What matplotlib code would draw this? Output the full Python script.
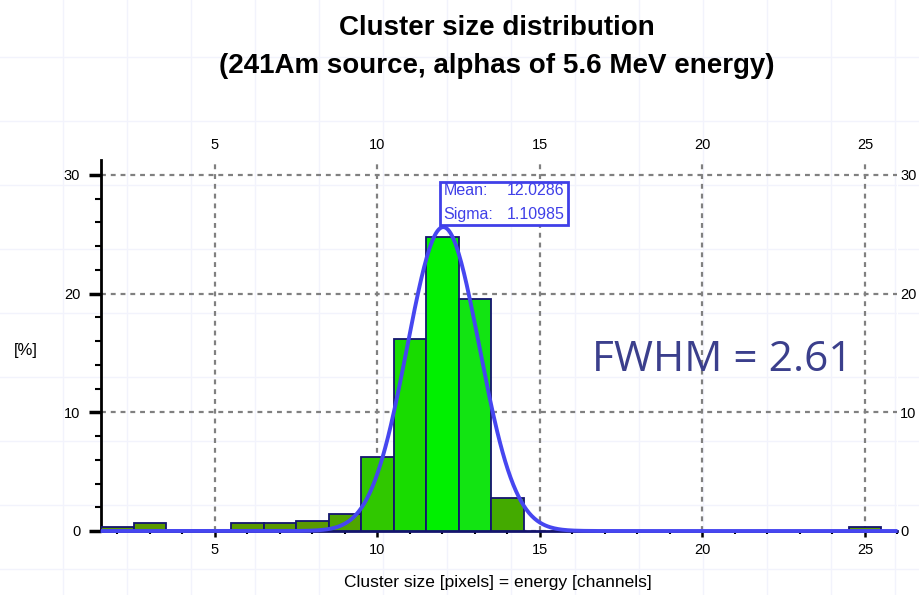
import numpy as np
import matplotlib.pyplot as plt
from matplotlib.lines import Line2D
from matplotlib.patches import Rectangle
from matplotlib.ticker import MultipleLocator

# cluster size bins (pixels) and share of clusters in each bin [%]
sizes = np.array([2, 3, 4, 5, 6, 7, 8, 9, 10, 11, 12, 13, 14, 25])
percent = np.array([0.37, 0.7, 0.0, 0.0, 0.7, 0.7, 0.87, 1.45, 6.26, 16.2, 24.8, 19.5, 2.75, 0.37])
bar_colors = ["#5a9900", "#5a9900", "#5a9900", "#5a9900", "#5a9900", "#5a9900", "#5a9900",
              "#4fa600", "#30c800", "#18dc00", "#00f000", "#12e412", "#44aa00", "#5a9900"]

# gaussian fit
mean = 12.0286
sigma = 1.10985
peak = 25.6
fwhm = 2.61

W, H = 920, 595
fig = plt.figure(figsize=(W / 100, H / 100), dpi=100)

# faint page grid behind everything
for px in range(63, W, 64):
    fig.add_artist(Line2D([px / W, px / W], [0, 1], color="#f2f3fc", lw=1.0, zorder=-10))
for py in range(57, H, 64):
    fig.add_artist(Line2D([0, 1], [1 - py / H, 1 - py / H], color="#f2f3fc", lw=1.0, zorder=-10))

ax = fig.add_axes([101 / W, 1 - 531 / H, 796.5 / W, 371 / H])
ax.patch.set_alpha(0)
ax.set_xlim(1.5, 26)
ax.set_ylim(0, 31.25)

ax.bar(sizes, percent, width=1.0, color=bar_colors, edgecolor="#14146e", linewidth=1.3, zorder=3)

xs = np.linspace(1.5, 26, 600)
ax.plot(xs, peak * np.exp(-0.5 * ((xs - mean) / sigma) ** 2), color="#4646f0", lw=2.8,
        zorder=4, clip_on=False, solid_capstyle="butt")

# fit parameter box
blue = "#4040e8"
ax.add_patch(Rectangle((11.94, 25.78), 3.91, 3.62, fc="white", ec=blue, lw=2, zorder=5))
ax.text(12.03, 28.64, "Mean:", color=blue, fontsize=11.5, family="Liberation Sans",
        ha="left", va="center", zorder=6)
ax.text(12.03, 26.62, "Sigma:", color=blue, fontsize=11.5, family="Liberation Sans",
        ha="left", va="center", zorder=6)
ax.text(15.76, 28.64, f"{mean:.4f}", color=blue, fontsize=11.5, family="Liberation Sans",
        ha="right", va="center", zorder=6)
ax.text(15.76, 26.62, f"{sigma:.5f}", color=blue, fontsize=11.5, family="Liberation Sans",
        ha="right", va="center", zorder=6)

ax.text(16.6, 14.4, f"FWHM = {fwhm}", color="#3b3f8c", fontsize=30.5, family="Open Sans",
        ha="left", va="center", zorder=5)

# axes styling
for side in ("top", "right"):
    ax.spines[side].set_visible(False)
ax.spines["left"].set_linewidth(2)
ax.spines["left"].set_color("black")
ax.spines["bottom"].set_linewidth(2)
ax.spines["bottom"].set_color("#14146e")

ax.xaxis.set_major_locator(MultipleLocator(5))
ax.xaxis.set_minor_locator(MultipleLocator(1))
ax.yaxis.set_major_locator(MultipleLocator(10))
ax.yaxis.set_minor_locator(MultipleLocator(2))

ax.tick_params(axis="y", which="major", length=9, width=2.5, pad=6, labelsize=10.5)
ax.tick_params(axis="y", which="minor", length=4, width=1.5)
ax.tick_params(axis="x", which="major", length=4, width=1.8, pad=5, labelsize=10.5)
ax.tick_params(axis="x", which="minor", length=2, width=1.5)
for lab in ax.get_yticklabels() + ax.get_xticklabels():
    lab.set_family("Liberation Sans")

# tick labels repeated on the top and right sides
top = ax.secondary_xaxis("top")
top.xaxis.set_major_locator(MultipleLocator(5))
top.tick_params(length=0, pad=6, labelsize=10.5)
top.spines["top"].set_visible(False)
right = ax.secondary_yaxis("right")
right.yaxis.set_major_locator(MultipleLocator(10))
right.tick_params(length=0, pad=2, labelsize=10.5)
right.spines["right"].set_visible(False)
for lab in top.get_xticklabels() + right.get_yticklabels():
    lab.set_family("Liberation Sans")

ax.grid(True, which="major", color="#808080", ls=(0, (2.2, 2.2)), lw=1.6, zorder=1)
ax.set_axisbelow(True)

fig.text(497 / W, 1 - 28 / H, "Cluster size distribution", ha="center", va="center",
         fontsize=20, fontweight="bold", family="Liberation Sans")
fig.text(497 / W, 1 - 66 / H, "(241Am source, alphas of 5.6 MeV energy)", ha="center",
         va="center", fontsize=20, fontweight="bold", family="Liberation Sans")
fig.text(26 / W, 1 - 350 / H, "[%]", ha="center", va="center", fontsize=12,
         family="Liberation Sans")
fig.text(498 / W, 1 - 583 / H, "Cluster size [pixels] = energy [channels]", ha="center",
         va="center", fontsize=12.5, family="Liberation Sans")

fig.savefig("out.png", dpi=100)
